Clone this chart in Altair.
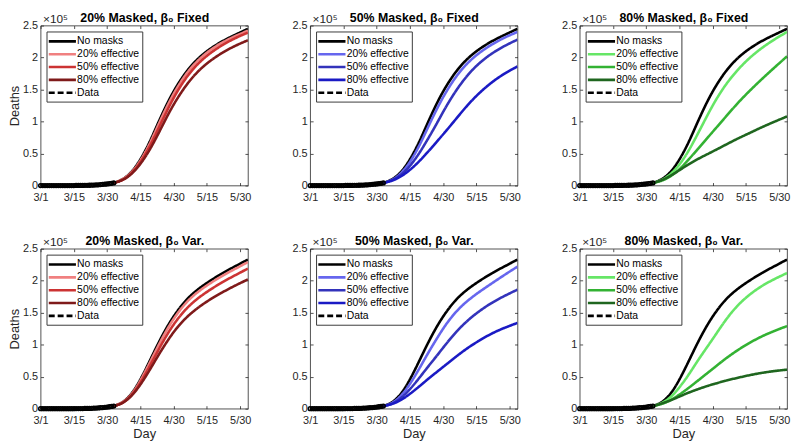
import altair as alt
import pandas as pd

# ---------------- data (deaths in units of 10^5) ----------------
SERIES = ["No masks", "20% effective", "50% effective", "80% effective", "Data"]
TICK_VALUES = [0, 15, 30, 45, 60, 75, 90]
TICK_LABELS = ["3/1", "3/15", "3/30", "4/15", "4/30", "5/15", "5/30"]
Y_TICKS = [0, 0.5, 1, 1.5, 2, 2.5]

DATA_DAYS = list(range(34))
DATA_VALS = [0.0, 0.0, 0.0, 0.0, 0.0, 0.0, 0.0, 0.0, 0.0, 0.0, 0.0, 0.0, 0.0, 0.0,
             0.0, 0.0, 0.001, 0.001, 0.002, 0.002, 0.003, 0.003, 0.004, 0.005, 0.007,
             0.009, 0.011, 0.015, 0.018, 0.021, 0.025, 0.03, 0.035, 0.04]

DAYS = [33, 37, 41, 45, 49, 53, 57, 61, 66, 71, 76, 82, 88, 93.5]

BLACK_FIXED = [0.04, 0.09, 0.20, 0.40, 0.66, 0.98, 1.28, 1.54, 1.80, 1.99, 2.13, 2.26, 2.36, 2.45]
BLACK_VAR = [0.04, 0.09, 0.22, 0.45, 0.73, 1.02, 1.28, 1.50, 1.72, 1.87, 1.99, 2.12, 2.23, 2.33]

P1_20 = [0.04, 0.09, 0.19, 0.38, 0.63, 0.94, 1.24, 1.50, 1.77, 1.96, 2.11, 2.24, 2.34, 2.42]
P1_50 = [0.04, 0.08, 0.18, 0.36, 0.59, 0.88, 1.17, 1.44, 1.71, 1.91, 2.06, 2.20, 2.31, 2.39]
P1_80 = [0.04, 0.08, 0.17, 0.33, 0.54, 0.80, 1.08, 1.33, 1.59, 1.79, 1.94, 2.08, 2.19, 2.27]

P2_20 = [0.04, 0.08, 0.18, 0.36, 0.60, 0.90, 1.19, 1.45, 1.72, 1.92, 2.07, 2.21, 2.32, 2.40]
P2_50 = [0.04, 0.08, 0.16, 0.30, 0.49, 0.72, 0.96, 1.22, 1.50, 1.73, 1.91, 2.07, 2.19, 2.28]
P2_80 = [0.04, 0.07, 0.14, 0.24, 0.37, 0.52, 0.68, 0.84, 1.05, 1.26, 1.44, 1.62, 1.76, 1.86]

P3_20 = [0.04, 0.08, 0.17, 0.32, 0.53, 0.79, 1.06, 1.32, 1.59, 1.80, 1.98, 2.15, 2.29, 2.40]
P3_50 = [0.04, 0.07, 0.14, 0.25, 0.40, 0.56, 0.72, 0.88, 1.08, 1.28, 1.46, 1.66, 1.85, 2.02]
P3_80 = [0.04, 0.08, 0.15, 0.24, 0.33, 0.41, 0.48, 0.55, 0.64, 0.73, 0.81, 0.91, 1.00, 1.08]

P4_20 = [0.04, 0.09, 0.21, 0.43, 0.70, 0.98, 1.24, 1.46, 1.68, 1.83, 1.95, 2.08, 2.19, 2.29]
P4_50 = [0.04, 0.08, 0.20, 0.40, 0.65, 0.91, 1.16, 1.37, 1.58, 1.73, 1.85, 1.98, 2.09, 2.19]
P4_80 = [0.04, 0.08, 0.19, 0.37, 0.59, 0.83, 1.05, 1.25, 1.44, 1.58, 1.70, 1.82, 1.93, 2.02]

P5_20 = [0.04, 0.08, 0.19, 0.38, 0.61, 0.86, 1.09, 1.31, 1.53, 1.69, 1.82, 1.96, 2.10, 2.22]
P5_50 = [0.04, 0.07, 0.16, 0.30, 0.47, 0.65, 0.82, 1.00, 1.21, 1.38, 1.52, 1.66, 1.77, 1.86]
P5_80 = [0.04, 0.07, 0.13, 0.23, 0.34, 0.46, 0.57, 0.68, 0.82, 0.95, 1.06, 1.18, 1.27, 1.34]

P6_20 = [0.04, 0.08, 0.17, 0.33, 0.52, 0.74, 0.94, 1.14, 1.40, 1.61, 1.77, 1.92, 2.03, 2.12]
P6_50 = [0.04, 0.07, 0.13, 0.22, 0.32, 0.43, 0.54, 0.65, 0.79, 0.91, 1.02, 1.13, 1.22, 1.29]
P6_80 = [0.04, 0.08, 0.13, 0.19, 0.25, 0.30, 0.35, 0.39, 0.44, 0.48, 0.52, 0.56, 0.59, 0.61]

REDS = ["#000000", "#F08080", "#CC3333", "#7F1A1A", "#000000"]
BLUES = ["#000000", "#6666EE", "#3333BB", "#1A1AC4", "#000000"]
GREENS = ["#000000", "#66E666", "#33B233", "#1F661F", "#000000"]

TITLES = ["20% Masked, β₀ Fixed", "50% Masked, β₀ Fixed", "80% Masked, β₀ Fixed",
          "20% Masked, β₀ Var.", "50% Masked, β₀ Var.", "80% Masked, β₀ Var."]
BLACKS = [BLACK_FIXED, BLACK_FIXED, BLACK_FIXED, BLACK_VAR, BLACK_VAR, BLACK_VAR]
CURVES = [[P1_20, P1_50, P1_80], [P2_20, P2_50, P2_80], [P3_20, P3_50, P3_80],
          [P4_20, P4_50, P4_80], [P5_20, P5_50, P5_80], [P6_20, P6_50, P6_80]]
PALETTES = [REDS, BLUES, GREENS, REDS, BLUES, GREENS]

W = 210
H = 162
AX = "#262626"

label_expr = ("[" + ",".join(f"'{l}'" for l in TICK_LABELS) + "][indexof(["
              + ",".join(str(v) for v in TICK_VALUES) + "], datum.value)]")


def make_panel(i):
    col, row = i % 3, i // 3
    recs = []
    for name, vals in zip(SERIES[:4], [BLACKS[i]] + CURVES[i]):
        for d, v in zip(DAYS, vals):
            recs.append({"day": d, "value": v, "series": name})
    for d, v in zip(DATA_DAYS, DATA_VALS):
        recs.append({"day": d, "value": v, "series": "Data"})
    df = pd.DataFrame(recs)

    xscale = alt.Scale(domain=[0, 93.5], nice=False, zero=False)
    yscale = alt.Scale(domain=[0, 2.5], nice=False)

    xb_kw = dict(orient="bottom", values=TICK_VALUES, labelExpr=label_expr, offset=-3,
                 tickSize=3, domain=False, grid=False, labelPadding=6, labelFlush=False)
    if row == 1:
        xb_kw.update(title="Day", titlePadding=2, titleFontSize=13)
    else:
        xb_kw.update(title=None)
    yl_kw = dict(orient="left", values=Y_TICKS, format="~g", offset=-3, tickSize=3,
                 domain=False, grid=False, labelPadding=3)
    if col == 0:
        yl_kw.update(title="Deaths", titlePadding=1, titleFontSize=13)
    else:
        yl_kw.update(title=None)

    x_top = alt.Axis(orient="top", values=TICK_VALUES, labels=False, offset=-3, tickSize=3,
                     domain=False, grid=False, title=TITLES[i], titleFontWeight="bold",
                     titleFontSize=12.5, titleColor="black", titleX=W / 2, titleY=-7,
                     titleAlign="center", titleBaseline="alphabetic")
    y_right = alt.Axis(orient="right", values=Y_TICKS, labels=False, offset=-3, tickSize=3,
                       domain=False, grid=False, title="×10⁵", titleAngle=0,
                       titleAlign="left", titleBaseline="alphabetic", titleX=-(W - 3) + 2,
                       titleY=-3, titleFontSize=12, titleFontWeight="normal")

    leg = alt.Legend(title=None, orient="top-left", offset=6, padding=3, rowPadding=0,
                     symbolType="M-1.4,0H3.6", symbolSize=121, symbolStrokeWidth=2.6,
                     labelFontSize=10.5, labelOffset=14, strokeColor="#3a3a3a",
                     fillColor="white", labelColor="black", labelLimit=200)

    base = alt.Chart(df)
    lines = base.mark_line(strokeWidth=2.6, interpolate="basis", clip=True).encode(
        x=alt.X("day:Q", scale=xscale, axis=alt.Axis(**xb_kw)),
        y=alt.Y("value:Q", scale=yscale, axis=alt.Axis(**yl_kw)),
        color=alt.Color("series:N", scale=alt.Scale(domain=SERIES, range=PALETTES[i]),
                        legend=leg),
        strokeDash=alt.StrokeDash("series:N",
                                  scale=alt.Scale(domain=SERIES,
                                                  range=[[1, 0], [1, 0], [1, 0], [1, 0], [6, 3]]),
                                  legend=leg),
    )
    pts = base.transform_filter(alt.datum.series == "Data").mark_point(
        shape="circle", filled=False, size=14, strokeWidth=1.6, color="black", opacity=1,
        clip=False
    ).encode(
        x=alt.X("day:Q", scale=xscale, axis=x_top),
        y=alt.Y("value:Q", scale=yscale, axis=y_right),
    )
    return alt.layer(lines, pts).resolve_axis(x="independent", y="independent").properties(
        width=W, height=H)


panels = [make_panel(i) for i in range(6)]

chart = alt.concat(*panels, columns=3, spacing={"row": 64, "column": 63}, bounds="flush").resolve_scale(
    color="independent", strokeDash="independent"
).properties(
    padding={"left": 0, "top": 0, "right": 0, "bottom": 0}
).configure(
    font="Liberation Sans"
).configure_view(
    stroke=AX, strokeWidth=0.8
).configure_axis(
    labelFontSize=11, labelColor=AX, tickColor=AX, tickWidth=0.8,
    titleColor=AX, titleFontSize=12, titleFontWeight="normal"
)

chart.save("out.html", embed_options={"renderer": "svg", "actions": False})
